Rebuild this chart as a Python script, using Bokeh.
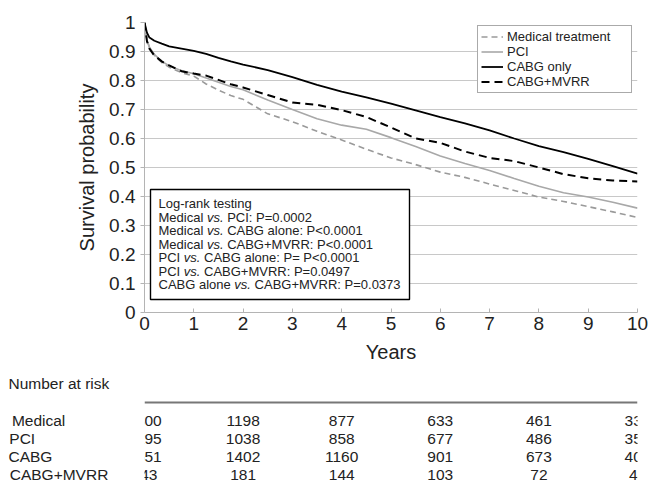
from bokeh.plotting import figure
from bokeh.models import (Range1d, FixedTicker, Legend, LegendItem, Label, BoxAnnotation,
                          Span, Title)
from bokeh.layouts import column
from bokeh.embed import file_html
from bokeh.resources import INLINE
from bokeh.core.properties import value

# ---------------- data ----------------
years = [0, 0.05, 0.1, 0.2, 0.35, 0.5, 0.75, 1, 1.25, 1.5, 1.75, 2, 2.5, 3, 3.5, 4,
         4.5, 5, 5.5, 6, 6.5, 7, 7.5, 8, 8.5, 9, 9.5, 10]
medical = [1.0, 0.94, 0.914, 0.887, 0.862, 0.846, 0.827, 0.815, 0.788, 0.767, 0.748, 0.735,
           0.685, 0.658, 0.625, 0.595, 0.563, 0.533, 0.51, 0.484, 0.466, 0.443, 0.421, 0.398,
           0.383, 0.365, 0.347, 0.328]
pci = [1.0, 0.94, 0.915, 0.89, 0.866, 0.851, 0.834, 0.823, 0.809, 0.794, 0.779, 0.768,
       0.733, 0.7, 0.668, 0.646, 0.632, 0.603, 0.572, 0.54, 0.514, 0.49, 0.462, 0.435,
       0.413, 0.398, 0.38, 0.36]
cabg = [1.0, 0.965, 0.948, 0.937, 0.927, 0.918, 0.91, 0.902, 0.892, 0.878, 0.866, 0.855,
        0.836, 0.812, 0.785, 0.762, 0.742, 0.72, 0.697, 0.674, 0.652, 0.628, 0.6, 0.574,
        0.553, 0.53, 0.505, 0.479]
mvrr = [1.0, 0.935, 0.91, 0.886, 0.866, 0.852, 0.832, 0.824, 0.817, 0.802, 0.787, 0.776,
        0.75, 0.724, 0.716, 0.698, 0.674, 0.638, 0.6, 0.585, 0.555, 0.533, 0.522, 0.5,
        0.477, 0.463, 0.455, 0.452]
series_names = ["Medical treatment", "PCI", "CABG only", "CABG+MVRR"]

x_ticks = [0, 1, 2, 3, 4, 5, 6, 7, 8, 9, 10]
y_ticks = [0, 0.1, 0.2, 0.3, 0.4, 0.5, 0.6, 0.7, 0.8, 0.9, 1]
y_tick_labels = ["0", "0.1", "0.2", "0.3", "0.4", "0.5", "0.6", "0.7", "0.8", "0.9", "1"]

logrank_lines = [
    "Log-rank testing",
    "Medical vs. PCI: P=0.0002",
    "Medical vs. CABG alone: P<0.0001",
    "Medical vs. CABG+MVRR: P<0.0001",
    "PCI vs. CABG alone: P= P<0.0001",
    "PCI vs. CABG+MVRR: P=0.0497",
    "CABG alone vs. CABG+MVRR: P=0.0373",
]

risk_title = "Number at risk"
risk_years = [0, 2, 4, 6, 8, 10]
risk_groups = ["Medical", "PCI", "CABG", "CABG+MVRR"]
risk_medical = [1800, 1198, 877, 633, 461, 332]
risk_pci = [1295, 1038, 858, 677, 486, 352]
risk_cabg = [1651, 1402, 1160, 901, 673, 402]
risk_mvrr = [243, 181, 144, 103, 72, 48]

# ---------------- layout / styles ----------------
FONT = "Liberation Sans"
TXT = "#222222"
W = 649
BL, BR = 144, 12
TOP_H = 372
TAB_H = 116

ARIAL = {' ': 278, '+': 584, '-': 333, '.': 278, ':': 278, '<': 584, '=': 584,
         'A': 667, 'B': 667, 'C': 722, 'G': 778, 'I': 278, 'L': 556, 'M': 833, 'P': 667,
         'R': 722, 'V': 667, 'a': 556, 'b': 556, 'c': 500, 'd': 556, 'e': 556, 'g': 556,
         'i': 222, 'k': 500, 'l': 222, 'n': 556, 'o': 556, 'r': 333, 's': 500, 't': 278,
         'v': 500, '\u00a0': 278}
for d in "0123456789":
    ARIAL[d] = 556


def text_w(s, size):
    return sum(ARIAL.get(c, 556) for c in s) / 1000.0 * size


p = figure(width=W, height=TOP_H, x_range=Range1d(0, 10), y_range=Range1d(0, 1),
           output_backend="svg", toolbar_location=None,
           min_border_left=BL, min_border_right=BR, min_border_top=22, min_border_bottom=60)
p.outline_line_color = None
p.xgrid.visible = False
p.ygrid.ticker = FixedTicker(ticks=y_ticks)
p.ygrid.grid_line_color = "#c8c8c8"
p.ygrid.grid_line_width = 1

p.xaxis.ticker = FixedTicker(ticks=x_ticks)
p.yaxis.ticker = FixedTicker(ticks=y_ticks)
p.yaxis.major_label_overrides = dict(zip(y_ticks, y_tick_labels))
for ax in (p.xaxis[0], p.yaxis[0]):
    ax.axis_line_color = "#b4b4b4"
    ax.major_tick_line_color = "#b4b4b4"
    ax.minor_tick_line_color = None
    ax.major_label_text_font = FONT
    ax.major_label_text_font_size = "19px"
    ax.major_label_text_color = TXT
    ax.axis_label_text_font = FONT
    ax.axis_label_text_font_size = "20px"
    ax.axis_label_text_font_style = "normal"
    ax.axis_label_text_color = TXT
p.xaxis.major_tick_in = 4
p.xaxis.major_tick_out = 0
p.xaxis.major_label_standoff = 4
p.xaxis.axis_label = "Years"
p.xaxis.axis_label_standoff = 8
p.yaxis.major_tick_in = 0
p.yaxis.major_tick_out = 4
p.yaxis.major_label_standoff = 5
p.yaxis.axis_label = "Survival probability"
p.yaxis.axis_label_standoff = 8

r_med = p.line(years, medical, line_color="#9a9a9a", line_width=1.6, line_dash="6 4")
r_pci = p.line(years, pci, line_color="#a8a8a8", line_width=1.6)
r_cabg = p.line(years, cabg, line_color="#000000", line_width=1.8)
r_mvrr = p.line(years, mvrr, line_color="#000000", line_width=2, line_dash="8 5")

legend = Legend(items=[LegendItem(label=n, renderers=[r]) for n, r in
                       zip(series_names, [r_med, r_pci, r_cabg, r_mvrr])],
                location=(333, 219), label_text_font=FONT, label_text_font_size="13px",
                label_text_color=TXT, label_text_line_height=0.8, label_width=121,
                glyph_width=22, glyph_height=13, label_height=13, spacing=0, padding=3,
                margin=0, label_standoff=4, border_line_color="#555555",
                border_line_width=1, background_fill_alpha=1)
p.add_layout(legend)

# ---- log-rank box (with italic "vs.") ----
LR_SIZE = 13
p.add_layout(BoxAnnotation(left=6, right=265, bottom=13, top=123,
                           left_units="screen", right_units="screen",
                           bottom_units="screen", top_units="screen",
                           fill_color="white", fill_alpha=1, line_alpha=1,
                           line_color="#000000", line_width=1.4, level="annotation"))
lr_x0, lr_y0, lr_gap = 14, 109, 13.5
for i, line in enumerate(logrank_lines):
    y = lr_y0 - i * lr_gap
    if "vs." in line:
        pre, post = line.split("vs.", 1)
        segs = [(pre, "normal"), ("vs.", "italic"), (post, "normal")]
    else:
        segs = [(line, "normal")]
    x = lr_x0
    for s, style in segs:
        lead = len(s) - len(s.lstrip(" "))
        x_draw = x + text_w(s[:lead], LR_SIZE)
        p.add_layout(Label(x=x_draw, y=y, x_units="screen", y_units="screen", text=s.strip(" "),
                           text_align="left", text_baseline="middle", text_font=FONT,
                           text_font_size=f"{LR_SIZE}px", text_font_style=style,
                           text_color=TXT))
        x += text_w(s, LR_SIZE)

# ---------------- number at risk table ----------------
ROW_PX = 18
FIRST_ROW = 48      # px from top of the table figure
FRAME_TOP = 20
RULE_PX = 30
TAB_SIZE = 15.5
NAME_STANDOFF = 6
t = figure(width=W, height=TAB_H, x_range=p.x_range,
           y_range=Range1d((TAB_H - FIRST_ROW) / ROW_PX, (FRAME_TOP - FIRST_ROW) / ROW_PX),
           output_backend="svg", toolbar_location=None,
           x_axis_location=None, y_axis_location="left",
           min_border_left=BL, min_border_right=BR, min_border_top=FRAME_TOP,
           min_border_bottom=0)
t.outline_line_color = None
t.grid.visible = False

rows = [risk_medical, risk_pci, risk_cabg, risk_mvrr]
xs, ys, txt = [], [], []
for i, row in enumerate(rows):
    for yr, n in zip(risk_years, row):
        xs.append(yr)
        ys.append(i)
        txt.append(str(n))
t.text(x=xs, y=ys, text=txt, text_align="center", text_baseline="middle",
       text_font=value(FONT), text_font_size=f"{TAB_SIZE}px", text_color=TXT)

rule_row = (RULE_PX - FIRST_ROW) / ROW_PX
t.add_layout(Span(location=rule_row, dimension="width", line_color="#777777", line_width=2))

# group names as the table's y-axis labels (padded so they read left-aligned)
name_w = BL - 10 - NAME_STANDOFF
pad_w = text_w("\u00a0", TAB_SIZE)
name_labels = [g + "\u00a0" * max(0, int(round((name_w - text_w(g, TAB_SIZE)) / pad_w)))
               for g in risk_groups]
row_idx = list(range(len(risk_groups)))
ya = t.yaxis[0]
ya.ticker = FixedTicker(ticks=row_idx)
ya.major_label_overrides = dict(zip(row_idx, name_labels))
ya.axis_line_color = None
ya.major_tick_line_color = None
ya.minor_tick_line_color = None
ya.major_tick_out = 0
ya.major_tick_in = 0
ya.minor_tick_in = 0
ya.minor_tick_out = 0
ya.major_label_standoff = NAME_STANDOFF
ya.major_label_text_font = FONT
ya.major_label_text_font_size = f"{TAB_SIZE}px"
ya.major_label_text_color = TXT

# "Number at risk" heading
t.add_layout(Title(text=risk_title, align="left", offset=-(BL - 8), standoff=1,
                   text_font=FONT, text_font_size=f"{TAB_SIZE}px", text_font_style="normal",
                   text_color=TXT), "above")

open("out.html", "w").write(file_html(column(p, t, spacing=0), INLINE))
